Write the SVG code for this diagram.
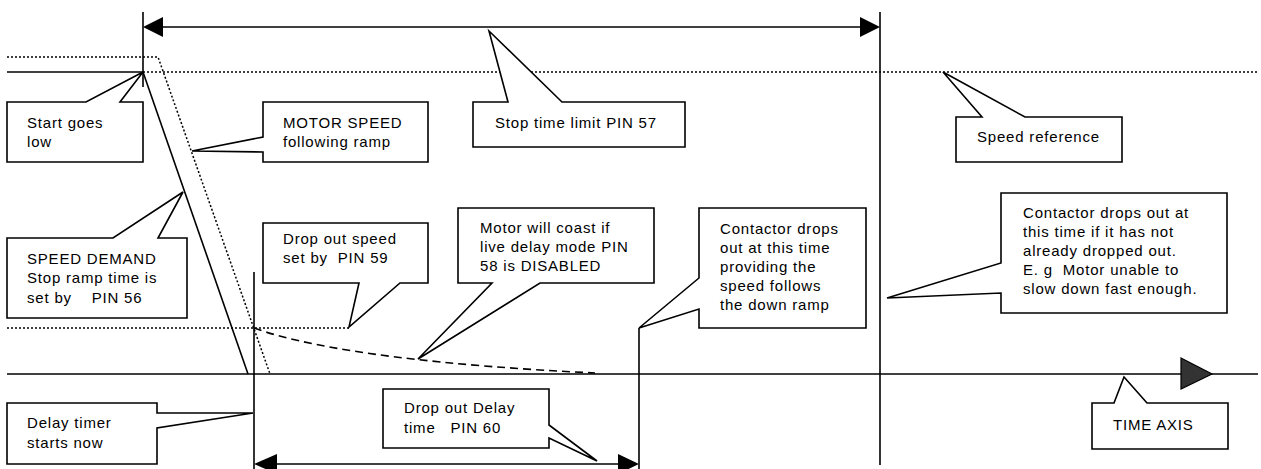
<svg xmlns="http://www.w3.org/2000/svg" width="1261" height="469" viewBox="0 0 1261 469">
<style>
.ln{stroke:#000;stroke-width:1.6;fill:none}
.dot{stroke:#000;stroke-width:1.5;fill:none;stroke-dasharray:2,2}
.dash{stroke:#000;stroke-width:1.6;fill:none;stroke-dasharray:8,5}
.co{stroke:#000;stroke-width:1.6;fill:#fff;stroke-linejoin:miter}
.ah{fill:#000;stroke:none}
text{font-family:"Liberation Sans",Arial,sans-serif;font-size:15px;letter-spacing:0.8px;fill:#000;white-space:pre}
</style>
<rect width="1261" height="469" fill="#fff"/>
<g id="connectors">
  <polyline class="dot" points="7,57 158,57 270,374"/>
  <line class="dot" x1="143" y1="72" x2="1257" y2="72"/>
  <line class="dot" x1="7" y1="328" x2="349" y2="328"/>
  <line class="ln" x1="7" y1="72" x2="143" y2="72"/>
  <line class="ln" x1="143" y1="72" x2="248" y2="374"/>
  <path class="dash" d="M254,328 C320,352 450,366 595,373"/>
  <line class="ln" x1="143" y1="12" x2="143" y2="87"/>
  <line class="ln" x1="254" y1="272" x2="254" y2="469"/>
  <line class="ln" x1="639" y1="328" x2="639" y2="469"/>
  <line class="ln" x1="880" y1="12" x2="880" y2="465"/>
  <line class="ln" x1="7" y1="374" x2="1258" y2="374"/>
  <polygon points="1181,358 1212,374 1181,389" fill="#333" stroke="#000" stroke-width="1.2"/>
  <line class="ln" x1="150" y1="27" x2="873" y2="27"/>
  <polygon class="ah" points="143,27 163,17 163,37"/>
  <polygon class="ah" points="880,27 860,17 860,37"/>
  <line class="ln" x1="262" y1="464" x2="630" y2="464"/>
  <polygon class="ah" points="254,464 277,454 277,474"/>
  <polygon class="ah" points="639,464 618,454 618,474"/>
</g>
<g id="start-goes-low">
  <polygon class="co" points="7,102 86,102 143,72 120,102 143,102 143,162 7,162"/>
  <text x="27" y="128">Start goes</text>
  <text x="27" y="147">low</text>
</g>
<g id="motor-speed">
  <polygon class="co" points="263,102 428,102 428,162 263,162 263,152 192,151 263,137"/>
  <text x="283" y="128">MOTOR SPEED</text>
  <text x="283" y="147">following ramp</text>
</g>
<g id="stop-time-limit">
  <polygon class="co" points="473,102 508,102 489,31 562,102 685,102 685,147 473,147"/>
  <text x="495" y="128">Stop time limit PIN 57</text>
</g>
<g id="speed-reference">
  <polygon class="co" points="956,117 982,117 943,72 1025,117 1122,117 1122,162 956,162"/>
  <text x="977" y="142">Speed reference</text>
</g>
<g id="speed-demand">
  <polygon class="co" points="7,238 113,238 183,192 158,238 187,238 187,318 7,318"/>
  <text x="27" y="264">SPEED DEMAND</text>
  <text x="27" y="283">Stop ramp time is</text>
  <text x="27" y="303">set by    PIN 56</text>
</g>
<g id="drop-out-speed">
  <polygon class="co" points="263,223 428,223 428,283 400,283 349,327 359,283 263,283"/>
  <text x="283" y="244">Drop out speed</text>
  <text x="283" y="263">set by  PIN 59</text>
</g>
<g id="motor-coast">
  <polygon class="co" points="458,208 654,208 654,283 540,283 418,359 492,283 458,283"/>
  <text x="480" y="233">Motor will coast if</text>
  <text x="480" y="252">live delay mode PIN</text>
  <text x="480" y="271">58 is DISABLED</text>
</g>
<g id="contactor-drops">
  <polygon class="co" points="699,208 866,208 866,328 699,328 699,309 639,328 699,278"/>
  <text x="720" y="234">Contactor drops</text>
  <text x="720" y="253">out at this time</text>
  <text x="720" y="272">providing the</text>
  <text x="720" y="291">speed follows</text>
  <text x="720" y="310">the down ramp</text>
</g>
<g id="contactor-limit">
  <polygon class="co" points="1001,193 1227,193 1227,313 1001,313 1001,293 887,298 1001,263"/>
  <text x="1023" y="218">Contactor drops out at</text>
  <text x="1023" y="237">this time if it has not</text>
  <text x="1023" y="256">already dropped out.</text>
  <text x="1023" y="275">E. g  Motor unable to</text>
  <text x="1023" y="294">slow down fast enough.</text>
</g>
<g id="delay-timer">
  <polygon class="co" points="7,403 157,403 157,413 253,413 157,428 157,464 7,464"/>
  <text x="27" y="428">Delay timer</text>
  <text x="27" y="448">starts now</text>
</g>
<g id="drop-out-delay">
  <polygon class="co" points="383,389 549,389 549,425 597,461 549,438 549,448 383,448"/>
  <text x="404" y="413">Drop out Delay</text>
  <text x="404" y="433">time   PIN 60</text>
</g>
<g id="time-axis">
  <polygon class="co" points="1092,403 1114,403 1124,377 1147,403 1228,403 1228,449 1092,449"/>
  <text x="1113" y="430">TIME AXIS</text>
</g>
</svg>
